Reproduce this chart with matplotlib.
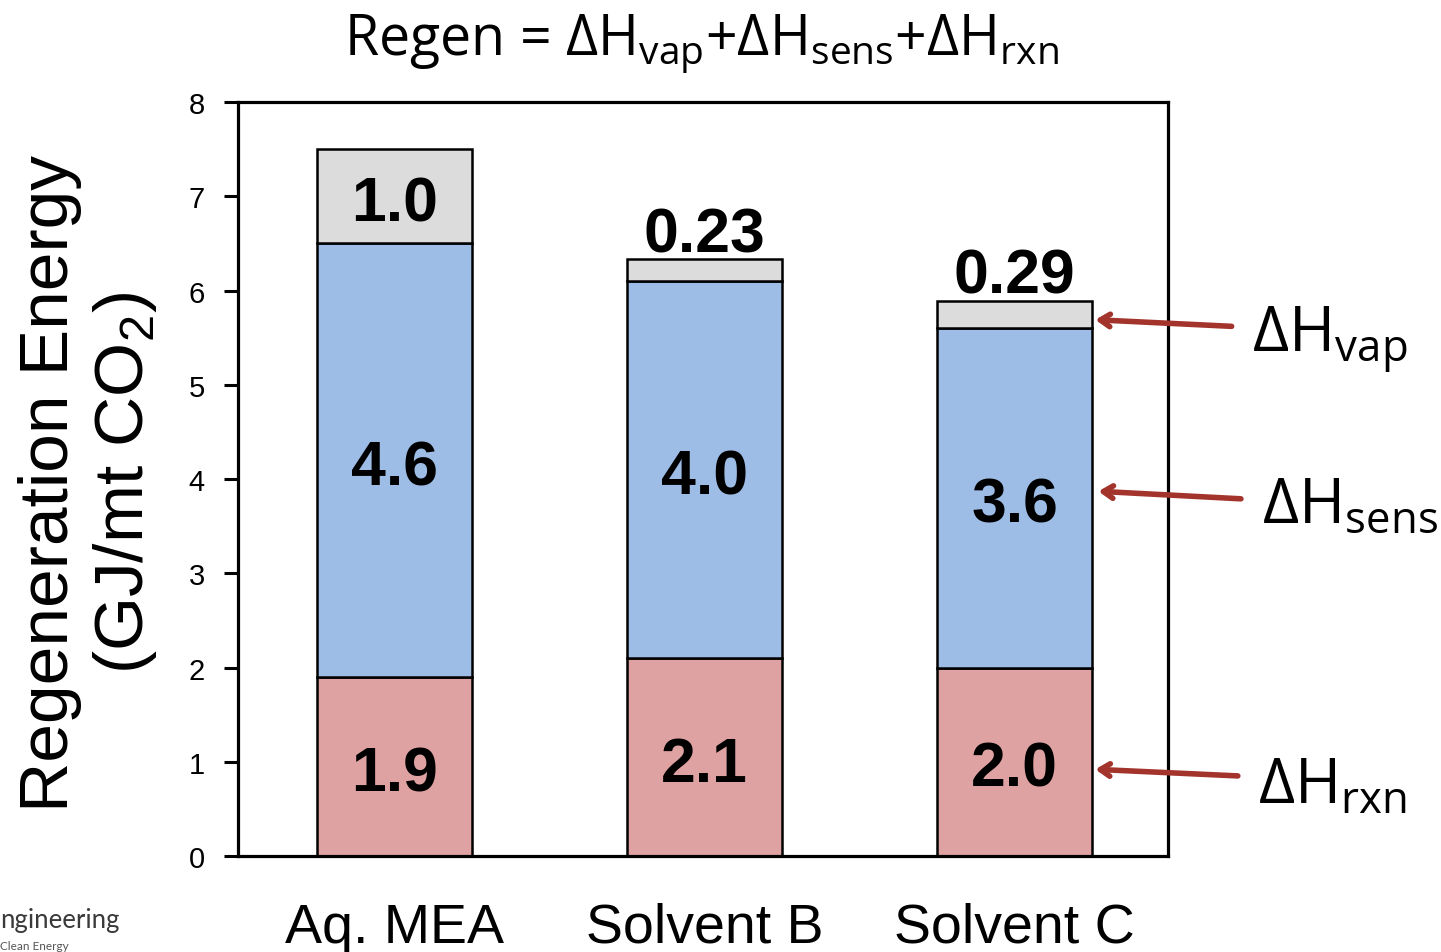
"""
Stacked regeneration-energy breakdown (reaction / sensible / vaporisation)
for aqueous MEA and two alternative solvents.
"""

import numpy as np
import matplotlib.pyplot as plt

SOLVENTS = ["Aq. MEA", "Solvent B", "Solvent C"]
H_RXN = [1.9, 2.1, 2.0]
H_SENS = [4.6, 4.0, 3.6]
H_VAP = [1.0, 0.23, 0.29]
RXN_LABELS = ["1.9", "2.1", "2.0"]
SENS_LABELS = ["4.6", "4.0", "3.6"]
VAP_LABELS = ["1.0", "0.23", "0.29"]

COLORS = {"rxn": "#dfa2a3", "sens": "#9dbde7", "vap": "#dcdcdc"}
ARROW_RED = "#a3342b"
SANS = ["Liberation Sans", "DejaVu Sans"]
CALIB = ["Open Sans", "DejaVu Sans"]

fig = plt.figure(figsize=(14.41, 9.53), dpi=100)
ax = fig.add_axes([0.1652, 0.1007, 0.6454, 0.7912])

x = np.arange(len(SOLVENTS))
rxn = np.array(H_RXN)
sens = np.array(H_SENS)
vap = np.array(H_VAP)
width = 0.5

bar_kw = dict(width=width, edgecolor="black", linewidth=1.8, zorder=2)
ax.bar(x, rxn, color=COLORS["rxn"], **bar_kw)
ax.bar(x, sens, bottom=rxn, color=COLORS["sens"], **bar_kw)
ax.bar(x, vap, bottom=rxn + sens, color=COLORS["vap"], **bar_kw)

label_kw = dict(ha="center", fontsize=45, fontweight="bold", family=SANS)
for i in x:
    ax.text(i, rxn[i] / 2 - 0.08, RXN_LABELS[i], va="center", **label_kw)
    ax.text(i, rxn[i] + sens[i] / 2 - 0.08, SENS_LABELS[i], va="center", **label_kw)
    top = rxn[i] + sens[i] + vap[i]
    if vap[i] >= 0.5:
        ax.text(i, top - vap[i] / 2 - 0.08, VAP_LABELS[i], va="center", **label_kw)
    else:
        # thin segments get their label just above the bar
        ax.text(i, top - 0.05, VAP_LABELS[i], va="bottom", **label_kw)

ax.set_xlim(-0.505, 2.495)
ax.set_ylim(0, 8)
ax.set_yticks(range(0, 9))
ax.set_xticks(x)
ax.set_xticklabels(SOLVENTS, fontsize=40, family=SANS)
ax.tick_params(axis="x", length=0, pad=33)
ax.tick_params(axis="y", length=10, width=2.2, pad=14, labelsize=21)
for lbl in ax.get_yticklabels():
    lbl.set_family(SANS)
for sp in ax.spines.values():
    sp.set_linewidth(2.3)

# arrows pointing at the Solvent C segments
arrows = [
    ((2.70, 5.62), (2.26, 5.69)),
    ((2.73, 3.79), (2.27, 3.87)),
    ((2.72, 0.85), (2.26, 0.92)),
]
for tail, tip in arrows:
    ax.annotate("", xy=tip, xytext=tail, annotation_clip=False,
                arrowprops=dict(arrowstyle="->,head_length=0.7,head_width=0.45",
                                color=ARROW_RED, lw=4.0, shrinkA=0, shrinkB=0),
                zorder=5)

fig.text(0.869, 0.631, r"ΔH$_{\mathregular{vap}}$", fontsize=45, family=CALIB, va="baseline")
fig.text(0.876, 0.451, r"ΔH$_{\mathregular{sens}}$", fontsize=45, family=CALIB, va="baseline")
fig.text(0.873, 0.157, r"ΔH$_{\mathregular{rxn}}$", fontsize=45, family=CALIB, va="baseline")

fig.text(0.487, 0.942,
         r"Regen = ΔH$_{\mathregular{vap}}$+ΔH$_{\mathregular{sens}}$+ΔH$_{\mathregular{rxn}}$",
         fontsize=40, family=CALIB, ha="center", va="baseline")

fig.text(0.0345, 0.493, "Regeneration Energy", rotation=90, fontsize=50,
         family=SANS, ha="center", va="center")
fig.text(0.0867, 0.493, r"(GJ/mt CO$_{\mathregular{2}}$)", rotation=90, fontsize=50,
         family=SANS, ha="center", va="center")

# clipped logo text in the corner
fig.text(0.0, 0.026, "ngineering", fontsize=18.5, family=["Lato", "DejaVu Sans"],
         color="#3a3a3a", va="baseline")
fig.text(0.0, 0.003, "Clean Energy", fontsize=8.5, family=["Lato", "DejaVu Sans"],
         color="#555555", va="baseline")

fig.savefig("out.png", dpi=100)
